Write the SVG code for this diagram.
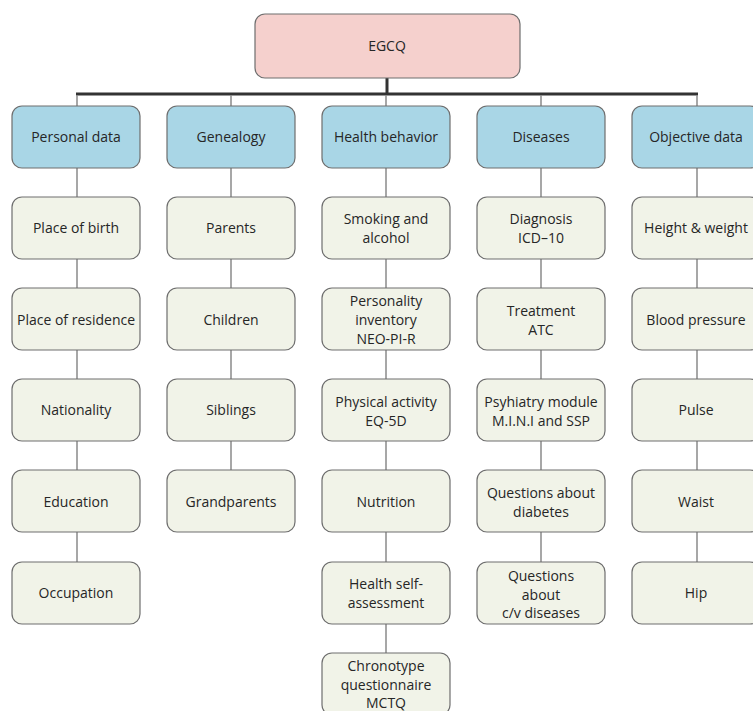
<svg xmlns="http://www.w3.org/2000/svg" width="753" height="711" viewBox="0 0 753 711">
<style>
text{font-family:"Open Sans","Liberation Sans",sans-serif;font-size:14px;fill:#262626;text-anchor:middle}
.root{fill:#f5d0cd;stroke:#6e6e6e;stroke-width:1.2}
.cat{fill:#a9d6e6;stroke:#6e6e6e;stroke-width:1.2}
.item{fill:#f1f3e8;stroke:#6e6e6e;stroke-width:1.2}
.bus{stroke:#333;stroke-width:3;fill:none}
.ln{stroke:#8a8a8a;stroke-width:1.5;fill:none}
</style>
<rect width="753" height="711" fill="#fff"/>
<g id="connectors">
<line class="bus" x1="387" y1="78" x2="387" y2="94"/>
<line class="bus" x1="76" y1="94" x2="698" y2="94"/>
<line class="ln" x1="77" y1="95" x2="77" y2="563"/>
<line class="ln" x1="231" y1="95" x2="231" y2="472"/>
<line class="ln" x1="386" y1="95" x2="386" y2="654"/>
<line class="ln" x1="541" y1="95" x2="541" y2="563"/>
<line class="ln" x1="697" y1="95" x2="697" y2="563"/>
</g>
<g id="n-egcq"><rect class="root" x="255" y="14" width="265" height="64" rx="10"/><text x="387" y="51">EGCQ</text></g>

<g id="n-personal"><rect class="cat" x="12" y="106" width="128" height="62" rx="10"/><text x="76" y="142">Personal data</text></g>
<g id="n-genealogy"><rect class="cat" x="167" y="106" width="128" height="62" rx="10"/><text x="231" y="142">Genealogy</text></g>
<g id="n-health"><rect class="cat" x="322" y="106" width="128" height="62" rx="10"/><text x="386" y="142">Health behavior</text></g>
<g id="n-diseases"><rect class="cat" x="477" y="106" width="128" height="62" rx="10"/><text x="541" y="142">Diseases</text></g>
<g id="n-objective"><rect class="cat" x="632" y="106" width="128" height="62" rx="10"/><text x="696" y="142">Objective data</text></g>

<g id="n-birth"><rect class="item" x="12" y="197" width="128" height="62" rx="10"/><text x="76" y="233">Place of birth</text></g>
<g id="n-residence"><rect class="item" x="12" y="288" width="128" height="62" rx="10"/><text x="76" y="325">Place of residence</text></g>
<g id="n-nationality"><rect class="item" x="12" y="379" width="128" height="62" rx="10"/><text x="76" y="415">Nationality</text></g>
<g id="n-education"><rect class="item" x="12" y="470" width="128" height="62" rx="10"/><text x="76" y="507">Education</text></g>
<g id="n-occupation"><rect class="item" x="12" y="562" width="128" height="62" rx="10"/><text x="76" y="598">Occupation</text></g>

<g id="n-parents"><rect class="item" x="167" y="197" width="128" height="62" rx="10"/><text x="231" y="233">Parents</text></g>
<g id="n-children"><rect class="item" x="167" y="288" width="128" height="62" rx="10"/><text x="231" y="325">Children</text></g>
<g id="n-siblings"><rect class="item" x="167" y="379" width="128" height="62" rx="10"/><text x="231" y="415">Siblings</text></g>
<g id="n-grandparents"><rect class="item" x="167" y="470" width="128" height="62" rx="10"/><text x="231" y="507">Grandparents</text></g>

<g id="n-smoking"><rect class="item" x="322" y="197" width="128" height="62" rx="10"/><text x="386" y="224">Smoking and</text><text x="386" y="243">alcohol</text></g>
<g id="n-personality"><rect class="item" x="322" y="288" width="128" height="62" rx="10"/><text x="386" y="306">Personality</text><text x="386" y="325">inventory</text><text x="386" y="344">NEO-PI-R</text></g>
<g id="n-physical"><rect class="item" x="322" y="379" width="128" height="62" rx="10"/><text x="386" y="407">Physical activity</text><text x="386" y="426">EQ-5D</text></g>
<g id="n-nutrition"><rect class="item" x="322" y="470" width="128" height="62" rx="10"/><text x="386" y="507">Nutrition</text></g>
<g id="n-selfassess"><rect class="item" x="322" y="562" width="128" height="62" rx="10"/><text x="386" y="589">Health self-</text><text x="386" y="608">assessment</text></g>
<g id="n-chronotype"><rect class="item" x="322" y="653" width="128" height="62" rx="10"/><text x="386" y="671">Chronotype</text><text x="386" y="690">questionnaire</text><text x="386" y="708">MCTQ</text></g>

<g id="n-diagnosis"><rect class="item" x="477" y="197" width="128" height="62" rx="10"/><text x="541" y="224">Diagnosis</text><text x="541" y="243">ICD–10</text></g>
<g id="n-treatment"><rect class="item" x="477" y="288" width="128" height="62" rx="10"/><text x="541" y="316">Treatment</text><text x="541" y="335">ATC</text></g>
<g id="n-psych"><rect class="item" x="477" y="379" width="128" height="62" rx="10"/><text x="541" y="407">Psyhiatry module</text><text x="541" y="426">M.I.N.I and SSP</text></g>
<g id="n-diabetes"><rect class="item" x="477" y="470" width="128" height="62" rx="10"/><text x="541" y="498">Questions about</text><text x="541" y="517">diabetes</text></g>
<g id="n-cv"><rect class="item" x="477" y="562" width="128" height="62" rx="10"/><text x="541" y="581">Questions</text><text x="541" y="600">about</text><text x="541" y="618">c/v diseases</text></g>

<g id="n-height"><rect class="item" x="632" y="197" width="128" height="62" rx="10"/><text x="696" y="233">Height &amp; weight</text></g>
<g id="n-bp"><rect class="item" x="632" y="288" width="128" height="62" rx="10"/><text x="696" y="325">Blood pressure</text></g>
<g id="n-pulse"><rect class="item" x="632" y="379" width="128" height="62" rx="10"/><text x="696" y="415">Pulse</text></g>
<g id="n-waist"><rect class="item" x="632" y="470" width="128" height="62" rx="10"/><text x="696" y="507">Waist</text></g>
<g id="n-hip"><rect class="item" x="632" y="562" width="128" height="62" rx="10"/><text x="696" y="598">Hip</text></g>
</svg>
